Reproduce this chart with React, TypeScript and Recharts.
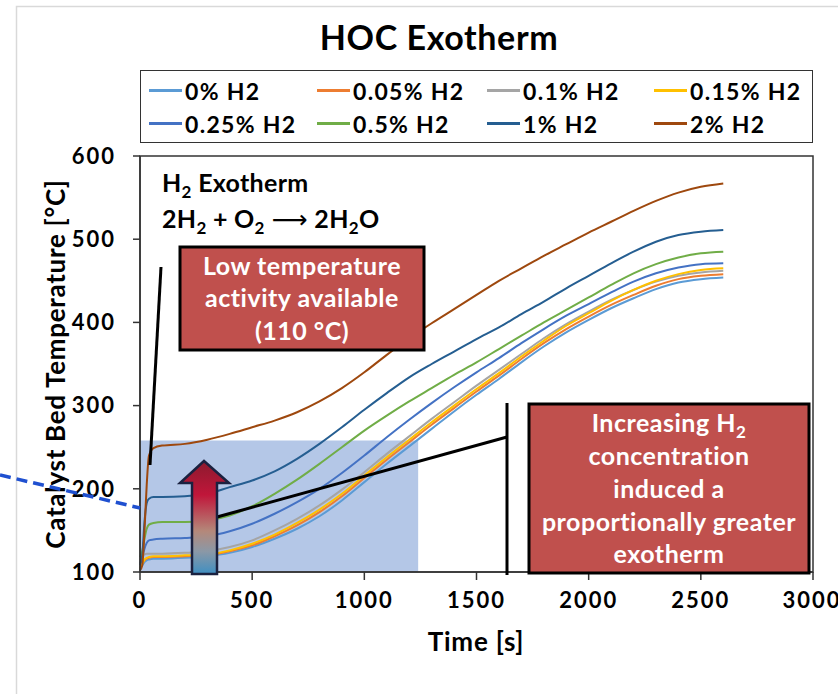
import { LineChart, Line, XAxis, YAxis, ReferenceArea, Legend } from 'recharts'

// time axis [s]
const times = [
  0, 10, 20, 30, 40, 60, 100, 200, 300, 400, 500, 600, 700, 800, 900, 1000, 1100, 1200, 1300,
  1400, 1500, 1600, 1700, 1800, 1900, 2000, 2100, 2200, 2300, 2400, 2500, 2600,
]

// catalyst bed temperature [°C] per H2 level
const h2_0 = [
  103, 108, 112, 114, 115, 116, 116, 117, 119, 123, 130, 140, 152, 167, 186, 208, 230, 251, 272,
  293, 313, 332, 352, 371, 388, 403, 417, 429, 440, 448, 452, 454,
]
const h2_005 = [
  105, 110, 114, 116, 117, 118, 118, 119, 120, 125, 132, 143, 156, 172, 191, 213, 235, 256, 277,
  297, 317, 336, 356, 375, 392, 407, 421, 433, 444, 452, 456, 458,
]
const h2_01 = [
  118, 120, 121, 122, 122, 122, 122, 123, 125, 130, 138, 150, 164, 180, 199, 220, 242, 263, 284,
  304, 324, 343, 362, 381, 398, 413, 427, 439, 449, 456, 460, 462,
]
const h2_015 = [
  104, 110, 115, 117, 118, 119, 119, 120, 121, 126, 134, 145, 159, 175, 194, 216, 238, 259, 280,
  300, 320, 339, 359, 378, 396, 411, 426, 439, 450, 458, 463, 465,
]
const h2_025 = [
  110, 118, 128, 135, 138, 139, 140, 141, 143, 149, 158, 170, 184, 200, 219, 240, 262, 283, 303,
  322, 340, 357, 375, 392, 408, 422, 436, 449, 459, 466, 470, 471,
]
const h2_05 = [
  118, 125, 140, 152, 157, 159, 160, 160, 162, 168, 179, 194, 211, 230, 250, 270, 288, 305, 321,
  337, 352, 368, 384, 400, 415, 430, 445, 459, 470, 478, 483, 485,
]
const h2_1 = [
  108, 120, 160, 183, 188, 190, 190, 191, 194, 202, 210, 221, 236, 254, 274, 295, 315, 334, 350,
  365, 380, 394, 410, 425, 441, 456, 471, 485, 497, 505, 509, 511,
]
const h2_2 = [
  102, 108, 150, 205, 240, 249, 252, 254, 259, 266, 274, 282, 292, 305, 321, 340, 361, 381, 399,
  416, 433, 450, 465, 480, 494, 508, 521, 534, 546, 556, 563, 567,
]

const seriesNames = ['0% H2', '0.05% H2', '0.1% H2', '0.15% H2', '0.25% H2', '0.5% H2', '1% H2', '2% H2']
const seriesValues = [h2_0, h2_005, h2_01, h2_015, h2_025, h2_05, h2_1, h2_2]
const seriesColors = ['#5B9BD5', '#ED7D31', '#A5A5A5', '#FFC000', '#4472C4', '#70AD47', '#255E91', '#9E480E']

const xTicks = [0, 500, 1000, 1500, 2000, 2500, 3000]
const yTicks = [100, 200, 300, 400, 500, 600]

const rows = times.map((t, i) => {
  const r: Record<string, number> = { t }
  seriesValues.forEach((s, k) => {
    r['s' + k] = s[i]
  })
  return r
})

const FONT = 'Lato, "DejaVu Sans", sans-serif'
const tickStyle = { fontSize: 22, fontWeight: 700, fill: '#000', fontFamily: FONT, letterSpacing: 2 }

// eslint-disable-next-line @typescript-eslint/no-explicit-any
const renderLegend = (props: any) => {
  const payload = props.payload || []
  return (
    <div
      style={{
        boxSizing: 'border-box',
        width: 673,
        height: 73,
        border: '1.5px solid #333',
        display: 'grid',
        gridTemplateColumns: '168px 170px 167px 160px',
        gridAutoRows: 33,
        padding: '3px 0 0 8px',
        fontFamily: FONT,
        fontWeight: 700,
        fontSize: 23,
        letterSpacing: 1.3,
        color: '#000',
      }}
    >
      {payload.map((p: any) => (
        <div key={p.value} style={{ display: 'flex', alignItems: 'center', whiteSpace: 'nowrap' }}>
          <span style={{ display: 'inline-block', width: 33, height: 2.5, background: p.color, marginRight: 3 }} />
          <span>{p.value}</span>
        </div>
      ))}
    </div>
  )
}

export default function App() {
  return (
    <div style={{ position: 'absolute', left: 0, top: 0, width: 838, height: 694, background: '#fff', overflow: 'hidden' }}>
      <LineChart width={838} height={694} data={rows} margin={{ top: 156, right: 25, bottom: 92, left: 0 }}>
        <XAxis
          dataKey="t"
          type="number"
          domain={[0, 3000]}
          ticks={xTicks}
          height={30}
          tickSize={8}
          tickMargin={12}
          tick={tickStyle}
          axisLine={{ stroke: '#333', strokeWidth: 1.5 }}
          tickLine={{ stroke: '#333', strokeWidth: 1.5 }}
        />
        <YAxis
          type="number"
          domain={[100, 600]}
          ticks={yTicks}
          width={140}
          tickSize={7}
          tickMargin={17}
          tick={tickStyle}
          axisLine={{ stroke: '#333', strokeWidth: 1.5 }}
          tickLine={{ stroke: '#333', strokeWidth: 1.5 }}
        />
        <Legend
          layout="horizontal"
          verticalAlign="middle"
          align="center"
          wrapperStyle={{ top: 70, left: 140, width: 673, height: 73 }}
          content={renderLegend}
        />
        {seriesNames.map((name, k) => (
          <Line
            key={name}
            type="monotone"
            dataKey={'s' + k}
            name={name}
            stroke={seriesColors[k]}
            strokeWidth={2}
            dot={false}
            isAnimationActive={false}
          />
        ))}
        <ReferenceArea x1={0} x2={1240} y1={100} y2={258} fill="#4472C4" fillOpacity={0.4} stroke="none" ifOverflow="visible" />
      </LineChart>

      {/* annotation layer */}
      <svg
        width={838}
        height={694}
        style={{ position: 'absolute', left: 0, top: 0, pointerEvents: 'none', fontFamily: FONT }}
      >
        <defs>
          <linearGradient id="arrowGrad" x1="0" y1="0" x2="0" y2="1">
            <stop offset="0%" stopColor="#8c1a2e" />
            <stop offset="30%" stopColor="#c0163a" />
            <stop offset="62%" stopColor="#b4887a" />
            <stop offset="80%" stopColor="#8b98a6" />
            <stop offset="100%" stopColor="#3f8fc2" />
          </linearGradient>
        </defs>
        {/* outer frame */}
        <rect x={16.5} y={6.5} width={900} height={900} fill="none" stroke="#d9d9d9" strokeWidth={1.5} />
        {/* plot frame */}
        <rect x={140} y={156} width={673} height={416} fill="none" stroke="#333" strokeWidth={1.5} />

        <text x={439} y={50} textAnchor="middle" fontSize={34} fontWeight={700} letterSpacing={0.6}>
          HOC Exotherm
        </text>
        <text
          x={55}
          y={364}
          transform="rotate(-90 55 364)"
          textAnchor="middle"
          dominantBaseline="central"
          fontSize={26}
          fontWeight={700}
          letterSpacing={0.7}
        >
          Catalyst Bed Temperature [°C]
        </text>
        <text x={476} y={651} textAnchor="middle" fontSize={26} fontWeight={700} letterSpacing={0.8}>
          Time [s]
        </text>

        {/* reaction text */}
        <text x={162} y={192} fontSize={25} fontWeight={700} letterSpacing={0.3}>
          H<tspan dy={6} fontSize={17}>2</tspan>
          <tspan dy={-6}> Exotherm</tspan>
        </text>
        <text x={162} y={228} fontSize={25} fontWeight={700} letterSpacing={0.3}>
          2H<tspan dy={6} fontSize={17}>2</tspan>
          <tspan dy={-6}> + O</tspan>
          <tspan dy={6} fontSize={17}>2</tspan>
          <tspan dy={-6} fontWeight={400}> ⟶ </tspan>
          <tspan>2H</tspan>
          <tspan dy={6} fontSize={17}>2</tspan>
          <tspan dy={-6}>O</tspan>
        </text>

        {/* callout lines */}
        <line x1={161} y1={267} x2={150} y2={465} stroke="#000" strokeWidth={3} />
        <line x1={217} y1={517} x2={507} y2={437} stroke="#000" strokeWidth={3} />
        <line x1={507} y1={403} x2={507} y2={575} stroke="#000" strokeWidth={3} />

        {/* dashed pointer from the left */}
        <line x1={0} y1={475} x2={140} y2={508} stroke="#1f50d0" strokeWidth={3.5} strokeDasharray="11 6" />

        {/* gradient arrow */}
        <polygon
          points="204,461 229,483 217,483 217,574 192,574 192,483 180,483"
          fill="url(#arrowGrad)"
          stroke="#1a2140"
          strokeWidth={2.5}
          strokeLinejoin="miter"
        />

        {/* callout boxes */}
        <rect x={180} y={247} width={244} height={103} fill="#C0504D" stroke="#000" strokeWidth={3} />
        <g fill="#fff" fontSize={25} fontWeight={700} textAnchor="middle" letterSpacing={0.5}>
          <text x={302} y={275}>Low temperature</text>
          <text x={302} y={307}>activity available</text>
          <text x={302} y={340}>(110 °C)</text>
        </g>

        <rect x={529} y={404} width={280} height={169} fill="#C0504D" stroke="#000" strokeWidth={3} />
        <g fill="#fff" fontSize={25} fontWeight={700} textAnchor="middle" letterSpacing={0.5}>
          <text x={669} y={432}>
            Increasing H<tspan dy={6} fontSize={17}>2</tspan>
          </text>
          <text x={669} y={465}>concentration</text>
          <text x={669} y={498}>induced a</text>
          <text x={669} y={531}>proportionally greater</text>
          <text x={669} y={563}>exotherm</text>
        </g>
      </svg>
    </div>
  )
}
